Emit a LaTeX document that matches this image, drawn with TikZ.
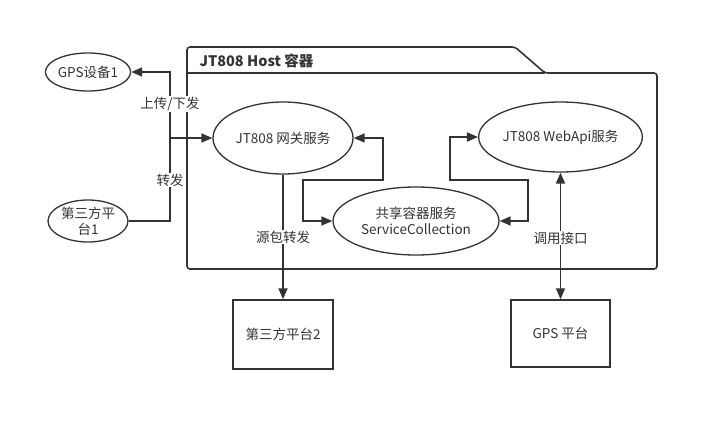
\documentclass[tikz,border=0pt]{standalone}
\usepackage{fontspec}
\setmainfont{Noto Sans CJK SC}
\usetikzlibrary{shapes.geometric,arrows.meta}
\definecolor{ink}{HTML}{333333}
\tikzset{
  ell/.style={ellipse,draw=ink,line width=1.3pt,inner sep=0pt,align=center,font=\fontsize{13.5}{16}\selectfont,text=ink},
  boxn/.style={rectangle,draw=ink,line width=1.5pt,inner sep=0pt,align=center,font=\fontsize{13.5}{16}\selectfont,text=ink},
  conn/.style={draw=ink,line width=1.7pt,-{Triangle[length=11pt,width=9pt]}},
  conn2/.style={draw=ink,line width=1.7pt,{Triangle[length=11pt,width=9pt]}-{Triangle[length=11pt,width=9pt]}},
  lbl/.style={fill=white,inner sep=1pt,font=\fontsize{13.5}{16}\selectfont,text=ink},
  frame/.style={draw=ink,line width=1.6pt,rounded corners=3pt}
}
\begin{document}
\begin{tikzpicture}[x=1pt,y=-1pt]
\useasboundingbox (0,0) rectangle (719,431);
% container
\draw[frame] (187,269) -- (187,47) -- (515,47) -- (545,73) -- (657,73) -- (657,269) -- cycle;
\draw[draw=ink,line width=1.6pt] (187,73) -- (545,73);
\node[anchor=west,font=\bfseries\fontsize{14.5}{17}\selectfont,text=ink] (title) at (196,61) {JT808 Host 容器};
% nodes
\node[ell,minimum width=80pt,minimum height=38pt] (gps1) at (88,72) {GPS设备1};
\node[ell,minimum width=80pt,minimum height=42pt] (tp1) at (88,221) {第三方平\\台1};
\node[ell,minimum width=140pt,minimum height=72pt] (gw) at (283,138) {JT808 网关服务};
\node[ell,minimum width=161pt,minimum height=70pt] (wa) at (560.5,137) {JT808 WebApi服务};
\node[ell,minimum width=166pt,minimum height=68pt] (sh) at (416,221) {共享容器服务\\ServiceCollection};
\node[boxn,minimum width=100pt,minimum height=69pt] (tp2) at (283,334.5) {第三方平台2};
\node[boxn,minimum width=99pt,minimum height=67pt] (gpsp) at (560.5,333.5) {GPS 平台};
% junctions
\coordinate (j1) at (170,138);
\coordinate (c1) at (383,180);
\coordinate (c2) at (303,180);
\coordinate (c3) at (450,180);
\coordinate (c4) at (528,180);
% connectors
\draw[conn] (tp1.east) -| (j1) -- (gw.west);
\draw[conn] (j1) |- (gps1.east);
\draw[conn2] (gw.east) -| (c1) -- (c2) |- (sh.west);
\draw[conn2] (wa.west) -| (c3) -- (c4) |- (sh.east);
\draw[conn] (gw.south) -- (tp2.north);
\draw[conn2] (wa.south) -- (gpsp.north);
% labels
\node[lbl] (l1) at (170,104) {上传/下发};
\node[lbl] (l2) at (170,180) {转发};
\node[lbl] (l3) at (283,237) {源包转发};
\node[lbl] (l4) at (560.5,238) {调用接口};
\end{tikzpicture}
\end{document}
